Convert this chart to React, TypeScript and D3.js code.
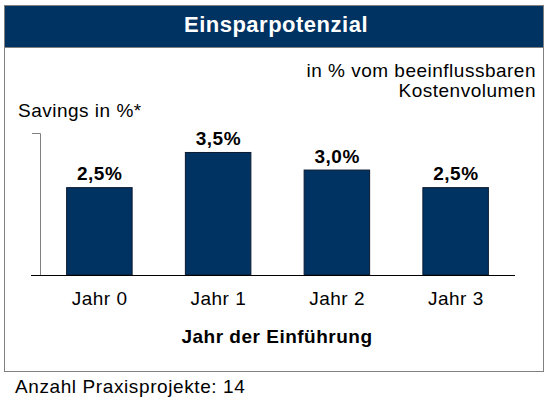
import React from "react";
import * as d3 from "d3";

const categories = ["Jahr 0", "Jahr 1", "Jahr 2", "Jahr 3"];
const values = [2.5, 3.5, 3.0, 2.5];
const valueLabels = ["2,5%", "3,5%", "3,0%", "2,5%"];

const W = 549, H = 403;
const NAVY = "#003262";
const FONT = "Liberation Sans, Arial, sans-serif";

export default function App() {
  const x = d3.scaleBand<string>().domain(categories).range([40, 515]).paddingInner(0.44).paddingOuter(0.22);
  const y = d3.scaleLinear().domain([0, 4.04]).range([275, 133]);
  const ls = 0.5;
  return (
    <svg width={W} height={H} style={{ position: "absolute", left: 0, top: 0 }} fontFamily={FONT}>
      <rect x={0} y={0} width={W} height={H} fill="#fff" />
      <rect x={4.5} y={5.5} width={539} height={366} fill="#fff" stroke="#808080" strokeWidth={1} />
      <rect x={4.5} y={5.5} width={539} height={42} fill={NAVY} stroke="#808080" strokeWidth={1} />
      <text x={276} y={32} textAnchor="middle" fill="#fff" fontWeight="bold" fontSize={22} letterSpacing={ls}>Einsparpotenzial</text>
      <text x={536} y={77} textAnchor="end" fontSize={19} letterSpacing={ls} fill="#000">in % vom beeinflussbaren</text>
      <text x={536} y={97} textAnchor="end" fontSize={19} letterSpacing={ls} fill="#000">Kostenvolumen</text>
      <text x={18} y={117} fontSize={19} letterSpacing={ls} fill="#000">Savings in %*</text>
      {/* y axis */}
      <path d={`M32,${y(4.04) + 0.5}H40.5V${y(0)}`} fill="none" stroke="#808080" strokeWidth={1} />
      {categories.map((c, i) => (
        <g key={c}>
          <rect x={x(c)! + 0.5} y={y(values[i]) + 0.5} width={x.bandwidth() - 1} height={y(0) - y(values[i]) - 0.5}
            fill={NAVY} stroke="#0a1a30" strokeWidth={1} />
          <text x={x(c)! + x.bandwidth() / 2 + ls / 2} y={y(values[i]) - 7} textAnchor="middle" fontWeight="bold" fontSize={19} letterSpacing={ls} fill="#000">{valueLabels[i]}</text>
          <text x={x(c)! + x.bandwidth() / 2 + ls / 2} y={305} textAnchor="middle" fontSize={19} letterSpacing={ls} fill="#000">{c}</text>
        </g>
      ))}
      <line x1={31} x2={515} y1={y(0) + 0.5} y2={y(0) + 0.5} stroke="#000" strokeWidth={1} />
      <text x={277} y={343} textAnchor="middle" fontWeight="bold" fontSize={19} letterSpacing={ls} fill="#000">Jahr der Einführung</text>
      <text x={15} y={393} fontSize={19} letterSpacing={0.6} fill="#000">Anzahl Praxisprojekte: 14</text>
    </svg>
  );
}
